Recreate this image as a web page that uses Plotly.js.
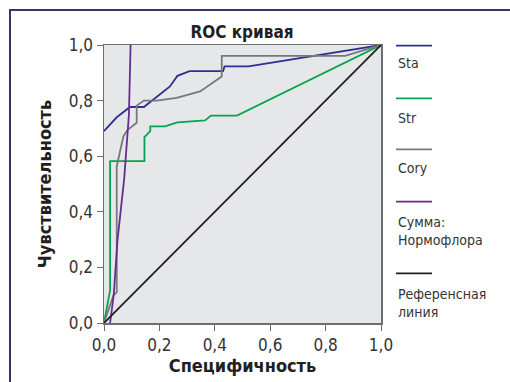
<!DOCTYPE html>
<html><head><meta charset="utf-8">
<script src="https://cdn.plot.ly/plotly-3.0.1.min.js"></script>
<style>html,body{margin:0;padding:0;background:#fff}#chart{width:510px;height:382px}</style>
</head><body><div id="chart"></div>
<script>
// Data (1 - specificity, sensitivity)
const staX = [0, 0.046, 0.094, 0.144, 0.238, 0.265, 0.309, 0.43, 0.435, 0.522, 1.0];
const staY = [0.69, 0.74, 0.777, 0.777, 0.851, 0.889, 0.906, 0.906, 0.923, 0.923, 1.0];
const strX = [0, 0.007, 0.022, 0.022, 0.146, 0.146, 0.167, 0.167, 0.22, 0.265, 0.365, 0.386, 0.48, 1.0];
const strY = [0, 0.04, 0.118, 0.582, 0.582, 0.669, 0.69, 0.707, 0.707, 0.722, 0.729, 0.746, 0.746, 1.0];
const coryX = [0, 0.034, 0.046, 0.046, 0.07, 0.085, 0.118, 0.118, 0.144, 0.19, 0.262, 0.347, 0.425, 0.425, 0.87, 1.0];
const coryY = [0, 0.10, 0.11, 0.564, 0.671, 0.695, 0.72, 0.782, 0.80, 0.80, 0.81, 0.833, 0.887, 0.961, 0.961, 1.0];
const sumX = [0.022, 0.035, 0.049, 0.073, 0.09, 0.096];
const sumY = [0, 0.1, 0.30, 0.52, 0.75, 1.0];
const refX = [0, 1];
const refY = [0, 1];
const tickVals = [0, 0.2, 0.4, 0.6, 0.8, 1.0];
const tickText = ['0,0', '0,2', '0,4', '0,6', '0,8', '1,0'];
const legendNames = ['Sta', 'Str', 'Cory', 'Сумма:<br>Нормофлора', 'Референсная<br>линия'];
const colors = ['#2e3192', '#00a651', '#77787b', '#662d91', '#231f20'];

const W = 510, H = 382;
const M = {l: 104, r: 129, t: 45, b: 59};
const pw = W - M.l - M.r, ph = H - M.t - M.b;
const px = x => (x - M.l) / pw;
const py = y => (H - M.b - y) / ph;

const font = "'Liberation Sans Narrow', 'DejaVu Sans Condensed', Arial, sans-serif";
const series = [[staX, staY], [strX, strY], [coryX, coryY], [sumX, sumY], [refX, refY]];
const traces = series.map((s, i) => ({
  x: s[0], y: s[1], type: 'scatter', mode: 'lines', name: legendNames[i],
  line: {color: colors[i], width: 1.8}, hoverinfo: 'skip'
}));

const shapes = [{type: 'path', xref: 'paper', yref: 'paper',
  path: `M ${px(10)} ${py(H+5)} L ${px(10)} ${py(10)} L ${px(W+5)} ${py(10)}`,
  line: {color: '#3f3163', width: 2}}];
const annotations = [];
const legLineY = [45.7, 98.3, 149.3, 201.7, 273.3];
const legTextY = [63.3, 118.3, 168.3, 231.2, 303];
legendNames.forEach((n, i) => {
  shapes.push({type: 'line', xref: 'paper', yref: 'paper', x0: px(396), x1: px(432),
    y0: py(legLineY[i]), y1: py(legLineY[i]), line: {color: colors[i], width: 1.8}});
  annotations.push({xref: 'paper', yref: 'paper', x: px(396), y: py(legTextY[i]),
    xanchor: 'left', yanchor: 'middle', align: 'left', showarrow: false, text: n,
    font: {family: font, size: 14, color: '#333333'}});
});

const axisCommon = {
  range: [0, 1], tickvals: tickVals, ticktext: tickText, ticks: 'outside', ticklen: 6,
  tickcolor: '#6d6e71', showline: true, linecolor: '#6d6e71', linewidth: 1.5, mirror: true,
  showgrid: false, zeroline: false, tickfont: {family: font, size: 17, color: '#333333'}, fixedrange: true
};
const layout = {
  width: W, height: H, margin: M, showlegend: false,
  paper_bgcolor: '#ffffff', plot_bgcolor: '#e6e7e8',
  title: {text: '<b>ROC кривая</b>', xref: 'container', x: 242 / W, xanchor: 'center',
    yref: 'container', y: 1 - 32 / H, yanchor: 'middle',
    font: {family: font, size: 17, color: '#231f20'}},
  xaxis: Object.assign({}, axisCommon, {title: {text: '<b>Специфичность</b>', standoff: 4,
    font: {family: font, size: 18, color: '#231f20'}}}),
  yaxis: Object.assign({}, axisCommon, {title: {text: '<b>Чувствительность</b>', standoff: 12,
    font: {family: font, size: 18, color: '#231f20'}}}),
  shapes: shapes, annotations: annotations
};
Plotly.newPlot('chart', traces, layout, {displayModeBar: false, staticPlot: true});
</script></body></html>
